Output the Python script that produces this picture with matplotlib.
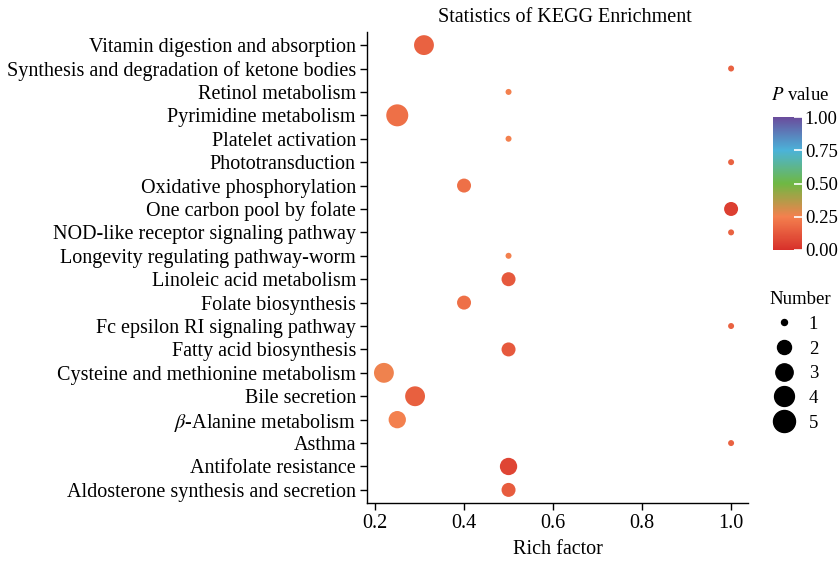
import matplotlib
matplotlib.use("Agg")
import matplotlib.pyplot as plt
import numpy as np
from matplotlib.colors import LinearSegmentedColormap
from matplotlib.lines import Line2D

plt.rcParams['font.family'] = ['Liberation Serif', 'DejaVu Serif']
plt.rcParams['mathtext.fontset'] = 'stix'

pathways = [
    "Vitamin digestion and absorption",
    "Synthesis and degradation of ketone bodies",
    "Retinol metabolism",
    "Pyrimidine metabolism",
    "Platelet activation",
    "Phototransduction",
    "Oxidative phosphorylation",
    "One carbon pool by folate",
    "NOD-like receptor signaling pathway",
    "Longevity regulating pathway-worm",
    "Linoleic acid metabolism",
    "Folate biosynthesis",
    "Fc epsilon RI signaling pathway",
    "Fatty acid biosynthesis",
    "Cysteine and methionine metabolism",
    "Bile secretion",
    r"$\mathit{\beta}$-Alanine metabolism",
    "Asthma",
    "Antifolate resistance",
    "Aldosterone synthesis and secretion",
]
rich_factor = [0.31, 1.0, 0.5, 0.25, 0.5, 1.0, 0.4, 1.0, 1.0, 0.5,
               0.5, 0.4, 1.0, 0.5, 0.22, 0.29, 0.25, 1.0, 0.5, 0.5]
gene_number = [4, 1, 1, 5, 1, 1, 2, 2, 1, 1,
               2, 2, 1, 2, 4, 4, 3, 1, 3, 2]
p_value = [0.16, 0.16, 0.25, 0.2, 0.25, 0.16, 0.2, 0.05, 0.16, 0.25,
           0.13, 0.2, 0.16, 0.13, 0.26, 0.15, 0.25, 0.16, 0.07, 0.14]

legend_numbers = [1, 2, 3, 4, 5]
cbar_ticks = [0.0, 0.25, 0.5, 0.75, 1.0]

cmap = LinearSegmentedColormap.from_list(
    "kegg", [(0.0, "#d7302a"), (0.25, "#f4804e"), (0.5, "#6fb843"),
             (0.75, "#4bb3d9"), (1.0, "#6a4c9c")])


def diam_pt(n):
    # area-like scale, 1..5 -> diameter in points
    px = 6 + 16 * np.sqrt((np.asarray(n) - 1) / 4.0)
    return px * 0.72


W, H = 840, 565
FS = 14.5
FS2 = 13.5
fig = plt.figure(figsize=(W / 100, H / 100), dpi=100)
ax = fig.add_axes([367 / W, 1 - 503 / H, (748 - 367) / W, (503 - 32) / H])

ypos = np.arange(len(pathways))
ax.scatter(rich_factor, ypos, s=diam_pt(gene_number) ** 2, c=p_value,
           cmap=cmap, vmin=0, vmax=1, edgecolors='none', zorder=3)

ax.set_ylim(len(pathways) - 0.44, -0.56)
ax.set_xlim(0.182, 1.038)
ax.set_yticks(ypos)
ax.set_yticklabels(pathways)
ax.set_xticks([0.2, 0.4, 0.6, 0.8, 1.0])
ax.set_xticklabels(["0.2", "0.4", "0.6", "0.8", "1.0"])
ax.tick_params(labelsize=FS, length=5, width=1, colors='black', pad=3)
for sp in ['top', 'right']:
    ax.spines[sp].set_visible(False)
for sp in ['left', 'bottom']:
    ax.spines[sp].set_linewidth(1)
ax.set_xlabel("Rich factor", fontsize=FS, labelpad=5)

fig.text(565 / W, 1 - 17 / H, "Statistics of KEGG Enrichment", ha='center',
         va='center', fontsize=FS)

# colorbar
cax = fig.add_axes([773 / W, 1 - 250 / H, 29 / W, 133 / H])
sm = plt.cm.ScalarMappable(cmap=cmap, norm=plt.Normalize(0, 1))
cb = fig.colorbar(sm, cax=cax, ticks=cbar_ticks)
cb.outline.set_visible(False)
cb.ax.tick_params(direction='in', color='white', length=6, width=1.2,
                  labelsize=FS2, pad=2)
cb.ax.set_yticklabels(["%.2f" % t for t in cbar_ticks])
fig.text(771 / W, 1 - 96 / H, r"$\mathit{P}$ value", ha='left',
         va='center', fontsize=FS2)

# size legend
handles = [Line2D([], [], marker='o', linestyle='none', color='black',
                  markersize=diam_pt(n)) for n in legend_numbers]
leg = fig.legend(handles, [str(n) for n in legend_numbers], title="Number",
                 loc='upper left', bbox_to_anchor=(760 / W, 1 - 282 / H),
                 frameon=False, fontsize=FS2, title_fontsize=FS2,
                 labelspacing=0.4, handletextpad=0.5, borderpad=0,
                 handlelength=1.6)
leg._legend_box.align = "left"

fig.savefig("out.png", dpi=100)
